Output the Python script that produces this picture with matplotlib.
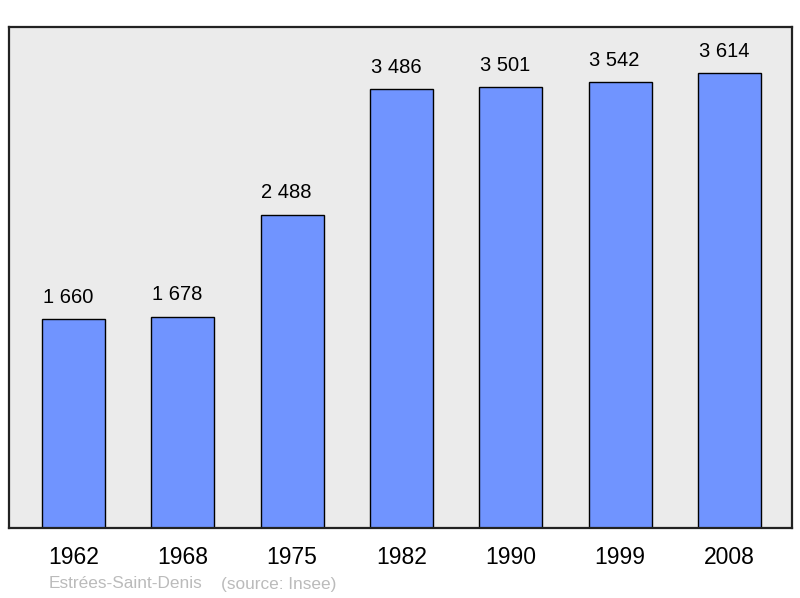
import matplotlib
matplotlib.use('Agg')
import matplotlib.pyplot as plt

plt.rcParams['font.family'] = ['Liberation Sans', 'DejaVu Sans']

# 인구 데이터
years = ['1962', '1968', '1975', '1982', '1990', '1999', '2008']
population = [1660, 1678, 2488, 3486, 3501, 3542, 3614]
labels = ['1 660', '1 678', '2 488', '3 486', '3 501', '3 542', '3 614']

fig = plt.figure(figsize=(8, 5.98), dpi=100)
ax = fig.add_axes([0.01125, 0.117, 0.97875, 0.8378])
ax.set_facecolor('#ebebeb')

x = range(len(years))
bars = ax.bar(x, population, width=0.576, color='#7094ff',
              edgecolor='black', linewidth=1.0, zorder=2)

# 값 라벨 (원본은 막대 중심보다 약간 왼쪽)
for b, lab in zip(bars, labels):
    ax.annotate(lab, (b.get_x() + b.get_width() / 2, b.get_height()),
                xytext=(-4, 9), textcoords='offset points',
                ha='center', va='bottom', fontsize=14.5, color='black')

ax.set_xlim(-0.59, 6.572)
ax.set_ylim(0, 3980)
ax.set_xticks(list(x))
ax.set_xticklabels(years, fontsize=16.5)
ax.tick_params(axis='x', length=0, pad=13)
ax.set_yticks([])
for s in ax.spines.values():
    s.set_linewidth(1.6)
    s.set_color('#222222')

fig.text(49 / 800, 1 - 584 / 598, 'Estrées-Saint-Denis', fontsize=12.4,
         color='#bbbbbb', va='center', ha='left')
fig.text(221 / 800, 1 - 584 / 598, '(source: Insee)', fontsize=12.4,
         color='#bbbbbb', va='center', ha='left')

fig.savefig('out.png', dpi=100)
